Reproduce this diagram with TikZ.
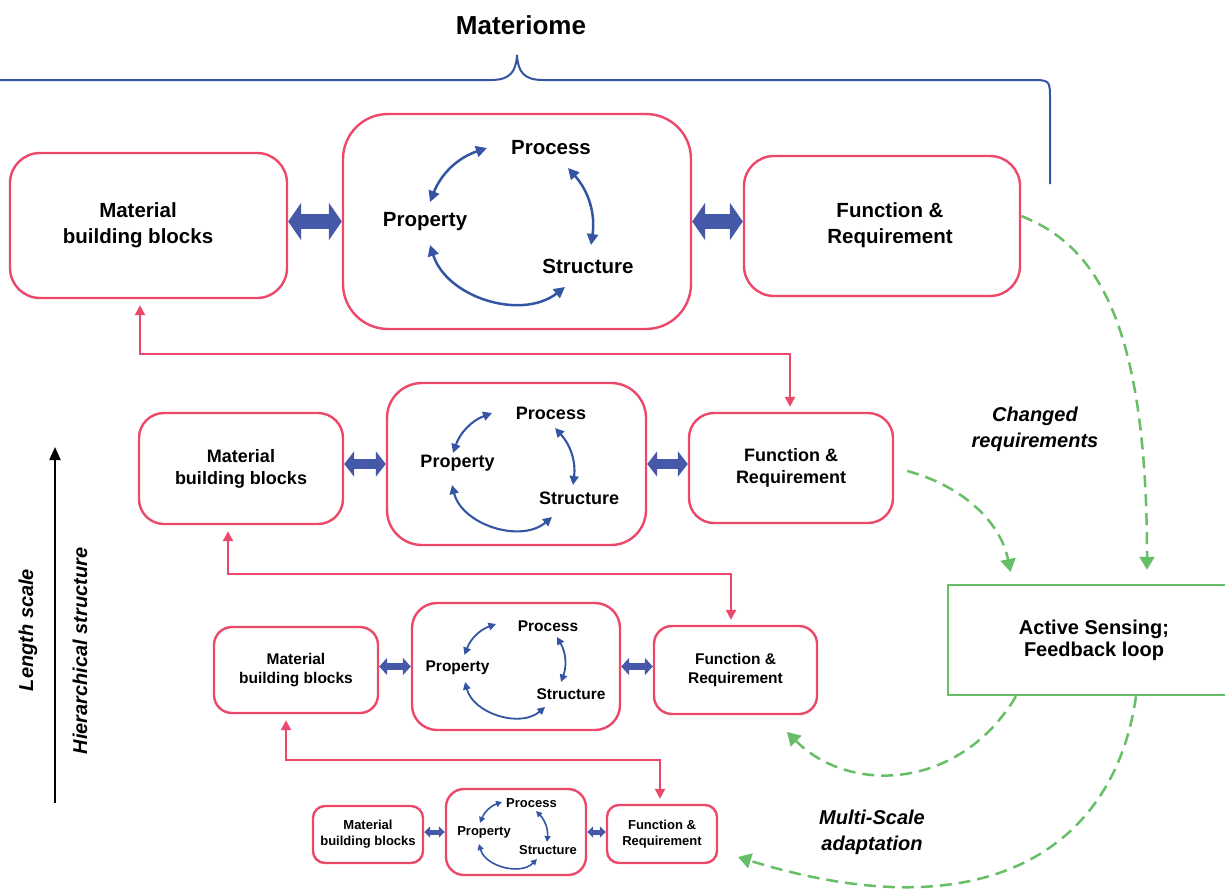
\documentclass[tikz,border=0pt]{standalone}
\usepackage{fontspec}
\setmainfont{Liberation Sans}
\usetikzlibrary{arrows.meta,calc}
\definecolor{myred}{RGB}{236,72,106}
\definecolor{myblue}{RGB}{52,84,164}
\definecolor{fatblue}{RGB}{70,88,168}
\definecolor{mygreen}{RGB}{102,190,102}
\begin{document}
\begin{tikzpicture}[x=1pt,y=-1pt,
  box/.style={draw=myred, line width=2.4pt, align=center, inner sep=0pt},
  fa/.style={font=\fontsize{20.5}{26}\selectfont\bfseries},
  fb/.style={font=\fontsize{18}{22}\selectfont\bfseries},
  fc/.style={font=\fontsize{15.5}{19}\selectfont\bfseries},
  fd/.style={font=\fontsize{13}{16}\selectfont\bfseries},
  lab/.style={inner sep=0pt},
  cyca/.style={draw=myblue, line width=2.5pt, {Triangle[length=11pt,width=11pt]}-{Triangle[length=11pt,width=11pt]}},
  cycb/.style={draw=myblue, line width=2.1pt, {Triangle[length=9pt,width=9pt]}-{Triangle[length=9pt,width=9pt]}},
  cycc/.style={draw=myblue, line width=1.8pt, {Triangle[length=7.5pt,width=7.5pt]}-{Triangle[length=7.5pt,width=7.5pt]}},
  cycd/.style={draw=myblue, line width=1.6pt, {Triangle[length=6pt,width=6pt]}-{Triangle[length=6pt,width=6pt]}},
  fata/.style={draw=fatblue, line width=15pt, {Triangle[length=13pt,width=37pt]}-{Triangle[length=13pt,width=37pt]}},
  fatb/.style={draw=fatblue, line width=10pt, {Triangle[length=10pt,width=25pt]}-{Triangle[length=10pt,width=25pt]}},
  fatc/.style={draw=fatblue, line width=7pt, {Triangle[length=8pt,width=17pt]}-{Triangle[length=8pt,width=17pt]}},
  fatd/.style={draw=fatblue, line width=5pt, {Triangle[length=6pt,width=11pt]}-{Triangle[length=6pt,width=11pt]}},
  redconn/.style={draw=myred, line width=2.2pt, {Triangle[length=10pt,width=10pt]}-{Triangle[length=10pt,width=10pt]}, shorten <=6pt, shorten >=5pt},
  gdash/.style={draw=mygreen, line width=2.5pt, dash pattern=on 12pt off 7pt, -{Triangle[length=13pt,width=15pt]}},
  gitext/.style={font=\fontsize{20}{26}\selectfont\bfseries\itshape, align=center},
  brace/.style={draw=myblue, line width=2pt}
]
\useasboundingbox (0,0) rectangle (1225,894);

% title and brace
\node[font=\fontsize{26}{30}\selectfont\bfseries] (title) at (521,25) {Materiome};
\draw[brace] (0,80) -- (491,80) .. controls (510,80) and (516,72) .. (517,55)
  .. controls (518,72) and (524,80) .. (543,80) -- (1030,80)
  .. controls (1050,80) .. (1050,100) -- (1050,184);

% ---------- row 1 ----------
\node[box, minimum width=277pt, minimum height=145pt, rounded corners=30pt] (A1) at (148.5,225.5) {};
\node[fa, align=center] (A1t) at (138,225.5) {Material\\building blocks};
\node[box, minimum width=348pt, minimum height=215pt, rounded corners=45pt] (B1) at (517,221.5) {};
\node[box, minimum width=276pt, minimum height=140pt, rounded corners=30pt] (C1) at (882,226) {};
\node[fa, align=center] (C1t) at (890,225) {Function \&\\Requirement};
\draw[fata] (A1.east |- B1.west) -- (B1.west);
\draw[fata] (B1.east) -- (C1.west |- B1.east);
\node[lab, fa] (Pc1) at (551,148) {Process};
\node[lab, fa] (Pp1) at (425,222) {Property};
\node[lab, fa] (St1) at (588,266) {Structure};
\draw[cyca] ($(Pp1.center)+(5,-20)$) to[bend left=25] ($(Pc1.center)+(-64,0)$);
\draw[cyca] ($(Pc1.center)+(17,20)$) to[bend left=25] ($(St1.center)+(3,-21)$);
\draw[cyca] ($(Pp1.center)+(5,23)$) to[bend right=55] ($(St1.center)+(-23,21)$);

% ---------- row 2 ----------
\node[box, fb, minimum width=204pt, minimum height=111pt, rounded corners=25pt] (A2) at (241,468.5) {Material\\building blocks};
\node[box, minimum width=259pt, minimum height=162pt, rounded corners=35pt] (B2) at (516.5,464) {};
\node[box, fb, minimum width=204pt, minimum height=110pt, rounded corners=25pt] (C2) at (791,468) {Function \&\\Requirement};
\draw[fatb] (A2.east |- B2.west) -- (B2.west);
\draw[fatb] (B2.east) -- (C2.west |- B2.east);
\node[lab, fb] (Pc2) at (551,413) {Process};
\node[lab, fb] (Pp2) at (457.5,463) {Property};
\node[lab, fb] (St2) at (579,498) {Structure};
\draw[cycb] ($(Pp2.center)+(-4.5,-10)$) to[bend left=25] ($(Pc2.center)+(-59,0)$);
\draw[cycb] ($(Pc2.center)+(4,15)$) to[bend left=25] ($(St2.center)+(-6,-13)$);
\draw[cycb] ($(Pp2.center)+(-5.5,22)$) to[bend right=58] ($(St2.center)+(-27,19)$);

% ---------- row 3 ----------
\node[box, fc, minimum width=164pt, minimum height=86pt, rounded corners=18pt] (A3) at (296,670) {Material\\building blocks};
\node[box, minimum width=208pt, minimum height=127pt, rounded corners=25pt] (B3) at (516,666.5) {};
\node[box, fc, minimum width=163pt, minimum height=88pt, rounded corners=18pt] (C3) at (735.5,670) {Function \&\\Requirement};
\draw[fatc] (A3.east |- B3.west) -- (B3.west);
\draw[fatc] (B3.east) -- (C3.west |- B3.east);
\node[lab, fc] (Pc3) at (548,626) {Process};
\node[lab, fc] (Pp3) at (457.5,668) {Property};
\node[lab, fc] (St3) at (571,694) {Structure};
\draw[cycc] ($(Pp3.center)+(7,-13)$) to[bend left=25] ($(Pc3.center)+(-52,-2)$);
\draw[cycc] ($(Pc3.center)+(9,11)$) to[bend left=25] ($(St3.center)+(-10,-12)$);
\draw[cycc] ($(Pp3.center)+(7.5,14)$) to[bend right=58] ($(St3.center)+(-26,13)$);

% ---------- row 4 ----------
\node[box, fd, minimum width=110pt, minimum height=57pt, rounded corners=12pt] (A4) at (368,834.5) {Material\\building blocks};
\node[box, minimum width=140pt, minimum height=86pt, rounded corners=18pt] (B4) at (516,832) {};
\node[box, fd, minimum width=110pt, minimum height=58pt, rounded corners=12pt] (C4) at (662,834) {Function \&\\Requirement};
\draw[fatd] (A4.east |- B4.west) -- (B4.west);
\draw[fatd] (B4.east) -- (C4.west |- B4.east);
\node[lab, fd] (Pc4) at (531.5,803) {Process};
\node[lab, fd] (Pp4) at (484,832) {Property};
\node[lab, fd] (St4) at (548,850) {Structure};
\draw[cycd] ($(Pp4.center)+(-4,-9)$) to[bend left=25] ($(Pc4.center)+(-29.5,-1)$);
\draw[cycd] ($(Pc4.center)+(4.5,8)$) to[bend left=25] ($(St4.center)+(-1,-8)$);
\draw[cycd] ($(Pp4.center)+(-5,12)$) to[bend right=60] ($(St4.center)+(-11,9)$);

% ---------- red connectors between scales ----------
\draw[redconn] (A1.south -| 140,0) -- (140,354) -- (790,354) -- (C2.north -| 790,0);
\draw[redconn] (A2.south -| 228,0) -- (228,574) -- (731,574) -- (C3.north -| 731,0);
\draw[redconn] (A3.south -| 286,0) -- (286,760) -- (660,760) -- (C4.north -| 660,0);

% ---------- feedback box ----------
\node[draw=mygreen, line width=2.5pt, minimum width=292pt, minimum height=110pt, align=center,
  font=\fontsize{20}{22}\selectfont\bfseries] (GB) at (1094,640) {Active Sensing;\\Feedback loop};

\coordinate (g3end) at (787,732);
\coordinate (g4end) at (738,857);
\draw[gdash, shorten >=14pt] ([yshift=10pt]C1.east) .. controls (1095,245) and (1147,320) .. (GB.north -| 1147,0);
\draw[gdash, shorten >=12pt] ([xshift=13pt,yshift=-3pt]C2.east) .. controls (960,485) and (1000,520) .. (GB.north -| 1013,0);
\draw[gdash] (GB.south -| 1016,0) .. controls (960,790) and (850,795) .. (g3end);
\draw[gdash] (GB.south -| 1136,0) .. controls (1115,845) and (990,935) .. (g4end);

\node[gitext] (chg) at (1035,429) {Changed\\requirements};
\node[gitext] (msa) at (872,832) {Multi-Scale\\adaptation};

% ---------- left axis ----------
\coordinate (axb) at (55,803);
\coordinate (axt) at (55,447);
\draw[line width=2pt, -{Triangle[length=13pt,width=11pt]}] (axb) -- (axt);
\node[rotate=90, font=\fontsize{20}{24}\selectfont\bfseries\itshape] (ls) at (28,630) {Length scale};
\node[rotate=90, font=\fontsize{20}{24}\selectfont\bfseries\itshape] (hs) at (80,651) {Hierarchical structure};
\end{tikzpicture}
\end{document}
